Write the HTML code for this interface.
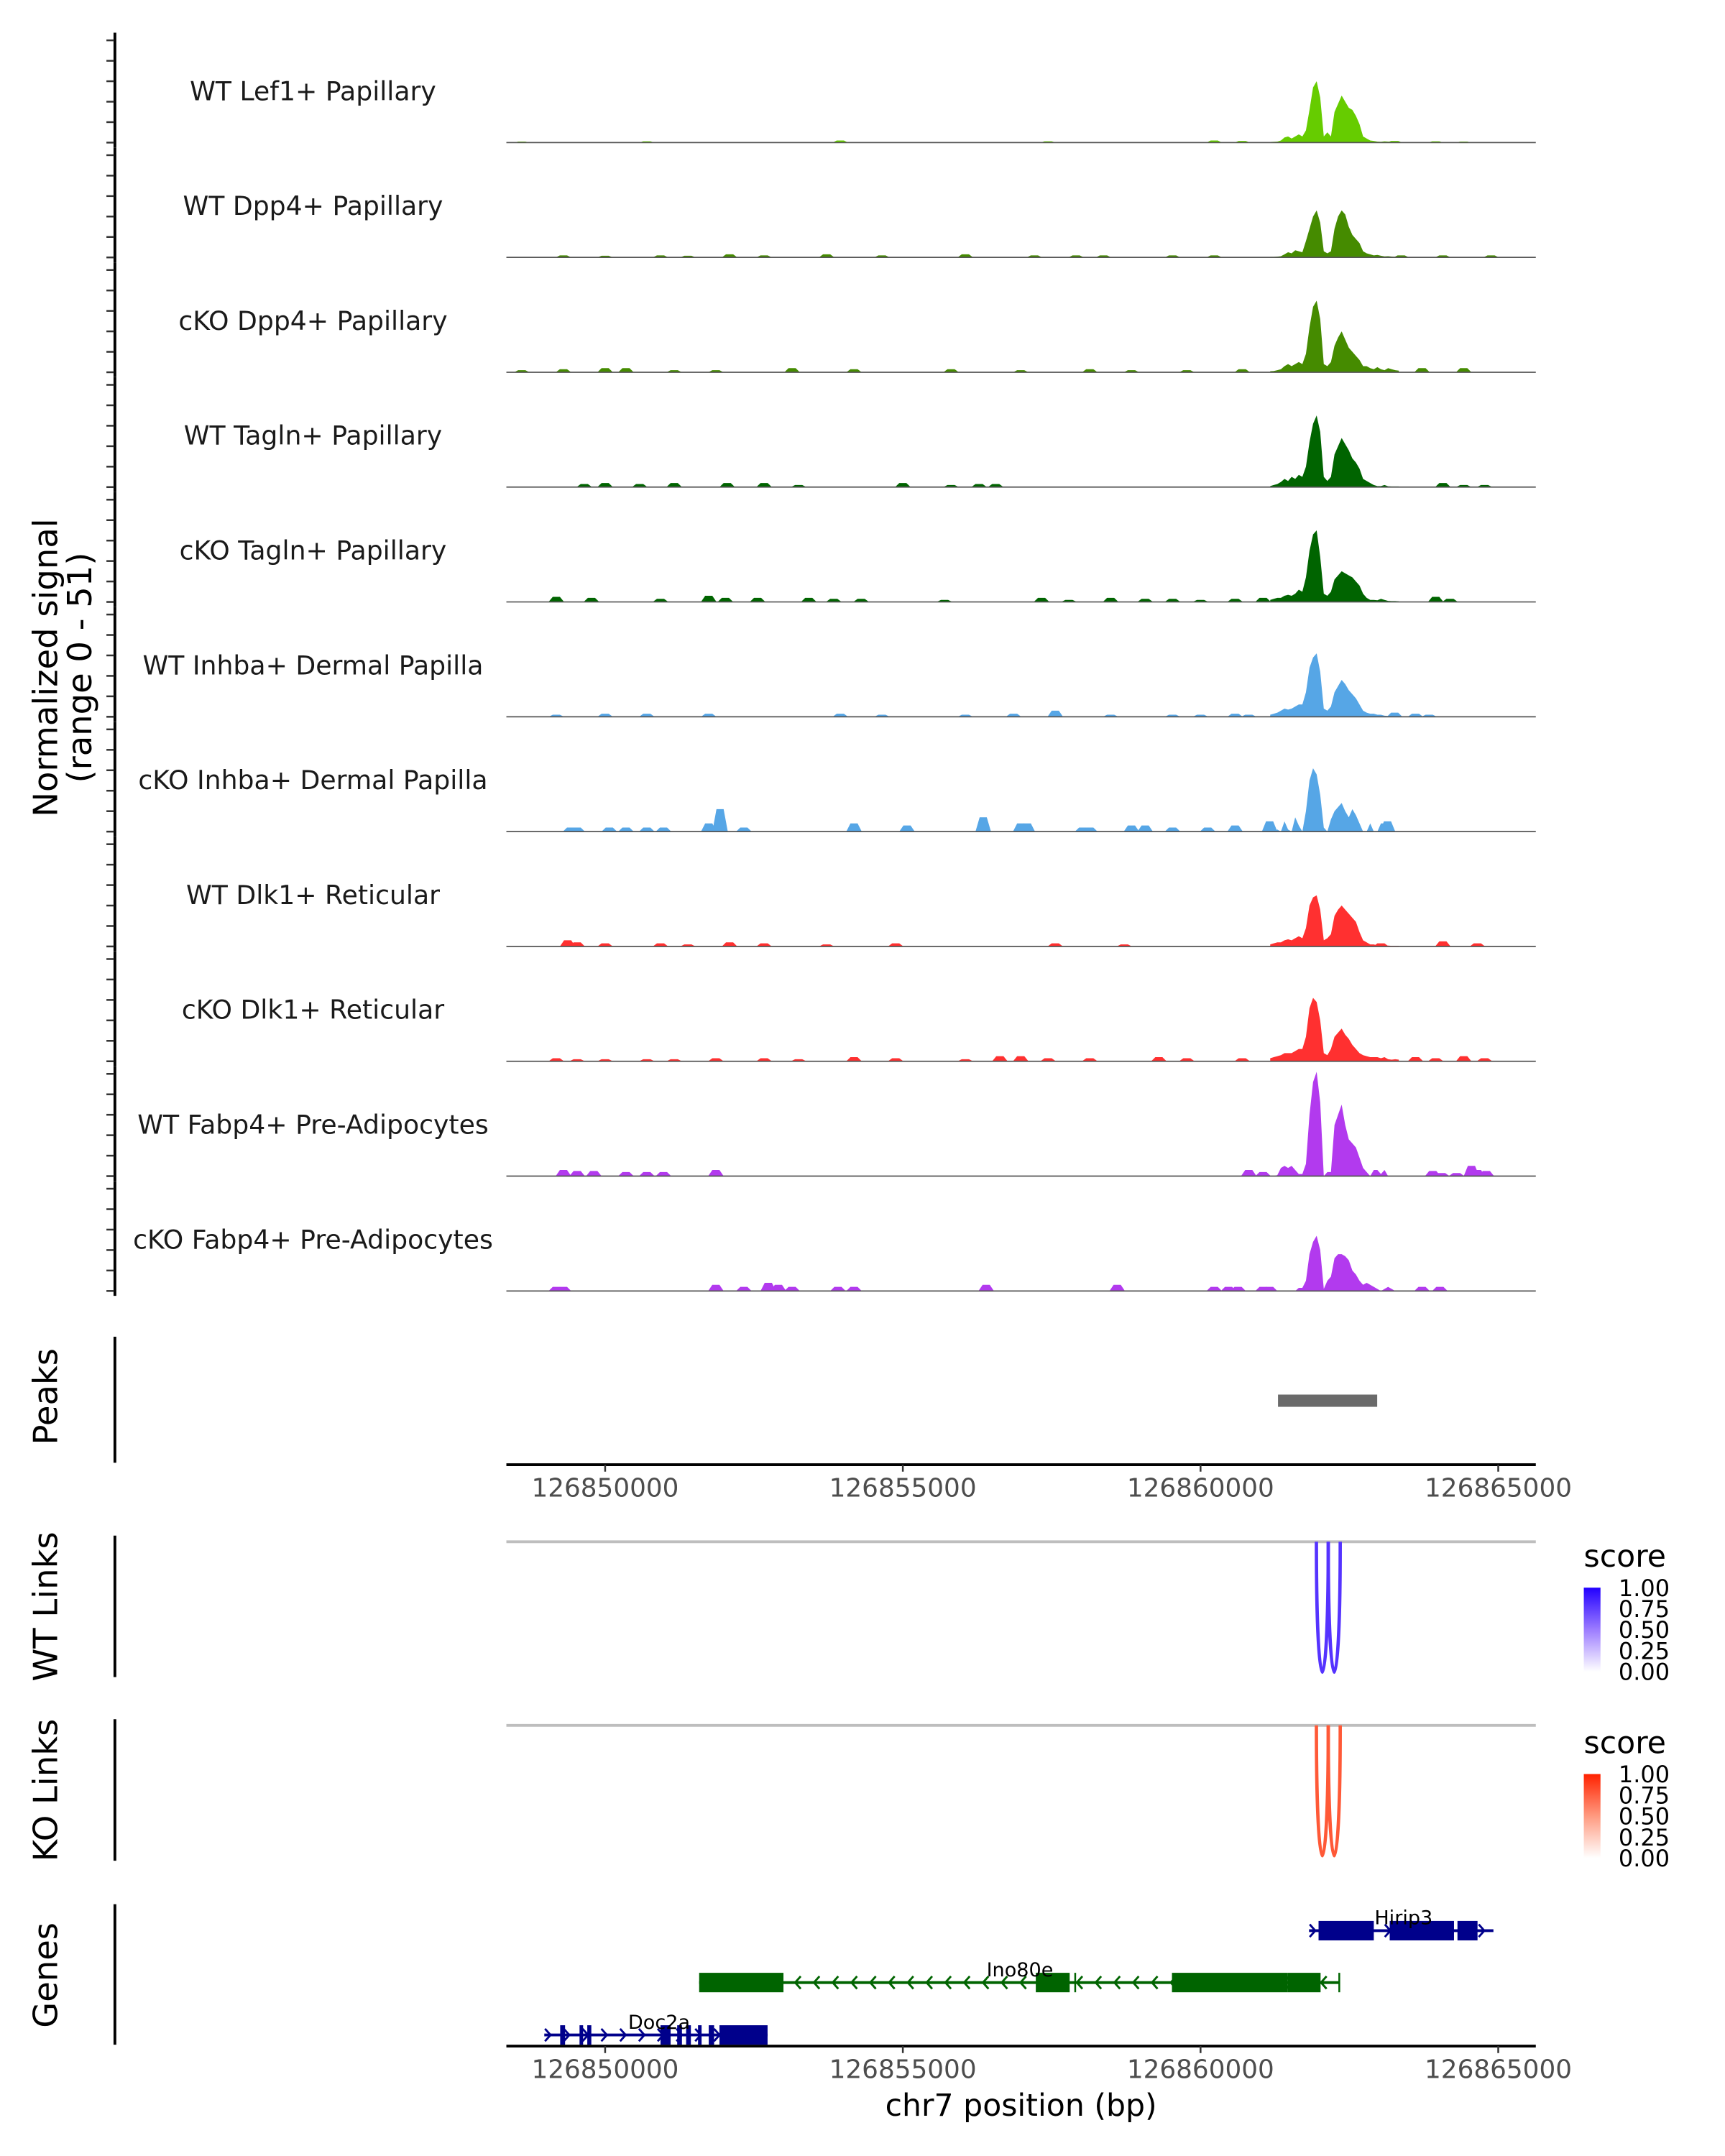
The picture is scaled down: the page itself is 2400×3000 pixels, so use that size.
<!DOCTYPE html>
<html><head><meta charset="utf-8"><title>Coverage plot chr7</title>
<style>html,body{margin:0;padding:0;background:#fff}svg{display:block}text{font-family:"DejaVu Sans","Liberation Sans",sans-serif}</style>
</head><body>
<svg id="chart" xmlns="http://www.w3.org/2000/svg" width="2400" height="3000" viewBox="0 0 1240 1550">
<defs>
<linearGradient id="gBlue" x1="0" y1="0" x2="0" y2="1"><stop offset="0" stop-color="#2200ff"/><stop offset="0.5" stop-color="#9c7cff"/><stop offset="1" stop-color="#ffffff"/></linearGradient>
<linearGradient id="gRed" x1="0" y1="0" x2="0" y2="1"><stop offset="0" stop-color="#ff2200"/><stop offset="0.5" stop-color="#ff9a80"/><stop offset="1" stop-color="#ffffff"/></linearGradient>
</defs>
<g id="g-tracks"></g>
<g id="g-axes"></g>
<text transform="translate(41,480) rotate(-90)" text-anchor="middle" font-size="24" fill="#000">Normalized signal</text>
<text transform="translate(65.5,480) rotate(-90)" text-anchor="middle" font-size="24" fill="#000">(range 0 - 51)</text>
<text transform="translate(41,1004) rotate(-90)" text-anchor="middle" font-size="24" fill="#000">Peaks</text>
<text transform="translate(41,1155) rotate(-90)" text-anchor="middle" font-size="24" fill="#000">WT Links</text>
<text transform="translate(41,1287) rotate(-90)" text-anchor="middle" font-size="24" fill="#000">KO Links</text>
<text transform="translate(41,1420) rotate(-90)" text-anchor="middle" font-size="24" fill="#000">Genes</text>
<text x="734" y="1521" text-anchor="middle" font-size="22" fill="#000">chr7 position (bp)</text>
<g>
<text x="1138.5" y="1126.4" font-size="22">score</text>
<rect x="1138.5" y="1141.4" width="12" height="60.4" fill="url(#gBlue)"/>
<text x="1163.5" y="1147.4" font-size="16.5">1.00</text>
<text x="1163.5" y="1162.5" font-size="16.5">0.75</text>
<text x="1163.5" y="1177.5" font-size="16.5">0.50</text>
<text x="1163.5" y="1192.7" font-size="16.5">0.25</text>
<text x="1163.5" y="1207.8" font-size="16.5">0.00</text>
</g>
<g transform="translate(0,134)">
<text x="1138.5" y="1126.4" font-size="22">score</text>
<rect x="1138.5" y="1141.4" width="12" height="60.4" fill="url(#gRed)"/>
<text x="1163.5" y="1147.4" font-size="16.5">1.00</text>
<text x="1163.5" y="1162.5" font-size="16.5">0.75</text>
<text x="1163.5" y="1177.5" font-size="16.5">0.50</text>
<text x="1163.5" y="1192.7" font-size="16.5">0.25</text>
<text x="1163.5" y="1207.8" font-size="16.5">0.00</text>
</g>
</svg>
<script>
// ---------- data ----------
const trackNames = ["WT Lef1+ Papillary","WT Dpp4+ Papillary","cKO Dpp4+ Papillary","WT Tagln+ Papillary","cKO Tagln+ Papillary","WT Inhba+ Dermal Papilla","cKO Inhba+ Dermal Papilla","WT Dlk1+ Reticular","cKO Dlk1+ Reticular","WT Fabp4+ Pre-Adipocytes","cKO Fabp4+ Pre-Adipocytes"];
const trackColors = ["#66cc00","#458b00","#458b00","#006400","#006400","#56a6e6","#56a6e6","#ff3030","#ff3030","#b23aee","#b23aee"];
const peakGridStart = 126861170;
const peakGridStep = 60;
const sigLef1 = [.3,.4,.5,1,2.5,3,2,3,4,3,6,16,27,30,22,3,5,3,15,19,23,20,17,16,13,9,3,2,1,.8,.5,.4,.6,.5,.4,.3,.3];
const sigWtDpp4 = [.3,.3,.4,.6,1.5,2.5,2,3.5,3,2.5,8,14,20,23,17,3,2,3,14,20,23,21,15,11,9,7,3,2,1.5,1,1.2,.8,.5,.6,.4,.3,.3];
const sigKoDpp4 = [.5,.6,1,1.5,3,4,3,4,5,4,9,22,32,35,26,4,3,5,13,17,20,16,12,10,8,6,3,3,2,1.5,2.5,1.5,1,2,1.5,1,.8];
const sigWtTagln = [.5,1,1.5,2.5,4,3,5,4,6,5,10,22,31,35,27,5,3,5,16,20,24,21,18,14,12,9,4,3,2,1,.5,.5,1,.4,.3,.3,.3];
const sigKoTagln = [1,1.5,2,2,3,3.5,3,4,6,5,12,25,33,35,22,4,3,5,11,13,15,14,13,12,10,8,4,2,1,1,.8,1.5,1,.5,.4,.4,.3];
const sigWtInhba = [1,1.5,2,3,4,3.5,4,5,6,6,12,24,29,31,22,4,3,5,12,15,18,16,13,11,9,6,3,2,1.5,1.5,1,1,.5,.4,.3,.3,.3];
const sigKoInhba = [0,0,1,0,5,1,0,7,3,0,10,25,31,28,18,2,0,6,10,12,14,10,7,11,8,4,0,0,4,0,0,4,4,0,0,0,0];
const sigWtDlk1 = [1,1.5,2,2,3,3.5,3,4,5,4,9,20,24,25,18,3,4,6,15,18,20,18,16,14,12,7,3,2,1,1,.5,.5,.4,.4,.3,.3,.3];
const sigKoDlk1 = [1.5,2,2.5,3,4,4,4,5,6,6,12,26,31,29,20,4,3,6,12,14,16,13,11,8,6,4,3,2.5,2,2,2,1.5,2,1,.8,1,.8];
const sigWtFabp4 = [0,0,.5,4,5,4,5,3,1,1,6,30,46,51,36,0,2,2,25,30,35,25,18,16,14,9,4,2,0,3,3,1,3,0,0,0,0];
const sigKoFabp4 = [0,0,0,0,0,0,0,0,1.5,1.5,5,18,24,27,20,1,5,7,16,18,18,17,15,10,8,5,3,4,3,2,1,0,1,2,1,0,0];
// background bumps: positions (kb) and heights
const bumpPosLef1 = [126848.60,126850.70,126853.95,126857.44,126860.23,126860.70,126863.26,126863.95,126864.42];
const bumpHLef1 = [.5,.6,1,.6,1,.8,.8,.6,.5];
const bumpPosWtDpp4 = [126849.30,126850.00,126850.93,126851.39,126852.09,126852.67,126853.72,126854.65,126856.05,126857.21,126857.91,126858.37,126859.53,126860.23,126863.37,126864.07,126864.88];
const bumpHWtDpp4 = [1,.8,1,.8,1.5,1,1.5,1,1.5,1,1,1,1,1,1,1,1];
const bumpPosKoDpp4 = [126848.60,126849.30,126850.00,126850.35,126851.16,126851.86,126853.14,126854.18,126855.81,126856.98,126858.14,126858.84,126859.77,126860.70,126863.72,126864.42];
const bumpHKoDpp4 = [1,1.5,2,2,1,1,2,1.5,1.5,1,1.5,1,1,1.5,2,2];
const bumpPosWtTagln = [126849.65,126850.00,126850.58,126851.16,126852.05,126852.67,126853.25,126855.00,126855.81,126856.28,126856.56,126862.79,126864.07,126864.42,126864.77];
const bumpHWtTagln = [1.5,2,1.5,2,2,2,1,2,1,1.5,1.5,1,2,1,1];
const bumpPosKoTagln = [126849.18,126849.77,126850.93,126851.74,126852.02,126852.56,126853.42,126853.84,126854.30,126855.70,126857.33,126857.79,126858.49,126859.07,126859.53,126860.00,126860.58,126861.05,126863.95,126864.19];
const bumpHKoTagln = [2.5,2,1.5,3,2,2,2,1.5,1.5,1,2,1,2,1.5,1.5,1,1.5,2,2.5,1.5];
const bumpPosWtInhba = [126849.18,126850.00,126850.70,126851.74,126853.95,126854.65,126856.05,126856.86,126857.56,126858.49,126859.53,126860.00,126860.58,126860.81,126863.26,126863.61,126863.84];
const bumpHWtInhba = [1,1.5,1.5,1.5,1.5,1,1,1.5,3,1,1,1,1.5,1,2,1.5,1];
const bumpPosKoInhba = [126849.42,126849.53,126850.07,126850.35,126850.70,126850.98,126851.74,126851.93,126852.33,126854.18,126855.07,126856.35,126856.98,126857.09,126858.02,126858.14,126858.84,126859.07,126859.53,126860.12,126860.58,126861.16,126863.14];
const bumpHKoInhba = [2,2,2,2,2,2,4,11,2,4,3,7,4,4,2,2,3,3,2,2,3,5,5];
const bumpPosWtDlk1 = [126849.37,126849.53,126850.00,126850.93,126851.39,126852.09,126852.67,126853.72,126854.88,126857.56,126858.72,126863.03,126864.07,126864.65];
const bumpHWtDlk1 = [3,2,1.5,1.5,1,2,1.5,1,1.5,1.5,1,1.5,2.5,1.5];
const bumpPosKoDlk1 = [126849.18,126849.53,126850.00,126850.70,126851.16,126851.86,126852.67,126853.25,126854.18,126854.88,126856.05,126856.63,126856.98,126857.44,126858.14,126859.30,126859.77,126860.70,126863.61,126863.95,126864.42,126864.77];
const bumpHKoDlk1 = [1.5,1,1,1,1,1.5,1.5,1,2,1.5,1,2.5,2.5,1.5,1.5,2,1.5,1.5,2,1.5,2.5,1.5];
const bumpPosWtFabp4 = [126849.30,126849.53,126849.81,126850.35,126850.70,126850.98,126851.86,126860.81,126861.05,126863.90,126864.05,126864.30,126864.55,126864.65,126864.80];
const bumpHWtFabp4 = [3,2.5,2.5,2,2,2,3,3,2,2.5,1.5,1.5,5,3,2.5];
const bumpPosKoFabp4 = [126849.18,126849.30,126851.86,126852.33,126852.74,126852.91,126853.14,126853.91,126854.18,126856.40,126858.60,126860.23,126860.47,126860.63,126861.05,126861.16,126863.72,126864.02];
const bumpHKoFabp4 = [2,2,3,2,4,3,2,2,2,3,3,2,2,2,2,2,2,2];

const trackSignals = [sigLef1,sigWtDpp4,sigKoDpp4,sigWtTagln,sigKoTagln,sigWtInhba,sigKoInhba,sigWtDlk1,sigKoDlk1,sigWtFabp4,sigKoFabp4];
const trackBumpPos = [bumpPosLef1,bumpPosWtDpp4,bumpPosKoDpp4,bumpPosWtTagln,bumpPosKoTagln,bumpPosWtInhba,bumpPosKoInhba,bumpPosWtDlk1,bumpPosKoDlk1,bumpPosWtFabp4,bumpPosKoFabp4];
const trackBumpH = [bumpHLef1,bumpHWtDpp4,bumpHKoDpp4,bumpHWtTagln,bumpHKoTagln,bumpHWtInhba,bumpHKoInhba,bumpHWtDlk1,bumpHKoDlk1,bumpHWtFabp4,bumpHKoFabp4];

const xTicks = [126850000,126855000,126860000,126865000];
const yTicks = [0,10,20,30,40,50];
const peakStarts = [126861301];
const peakEnds = [126862967];
const wtLinkStarts = [126861946,126862145];
const wtLinkEnds = [126862145,126862346];
const wtLinkScores = [1,1];
const koLinkStarts = [126861946,126862145];
const koLinkEnds = [126862145,126862346];
const koLinkScores = [0.85,0.85];

const geneNames = ["Hirip3","Ino80e","Doc2a"];
const geneStrands = ["+","-","+"];
const geneStarts = [126861822,126851579,126848978];
const geneEnds = [126864919,126862330,126852728];
const geneColors = ["#00008b","#006400","#00008b"];
const geneExons = [
  [[126861982,126862910],[126863177,126864257],[126864315,126864652]],
  [[126851579,126852995],[126857233,126857802],[126857880,126857910],[126859520,126861459],[126861459,126862016],[126862315,126862345]],
  [[126849245,126849327],[126849570,126849630],[126849700,126849768],[126850930,126851100],[126851210,126851290],[126851360,126851440],[126851560,126851620],[126851740,126851830],[126851920,126852728]]
];
const geneLabelPos = [126863410,126856966,126850906];

// ---------- scales ----------
const NS = "http://www.w3.org/2000/svg";
const X0 = 126850000, PXBP = 0.0428, XL = 364, XR = 1104;
function xs(bp){ return 435 + (bp - X0) * PXBP; }
function clampX(x){ return Math.max(XL, Math.min(XR, x)); }
const BASE0 = 102.5, TRACK_STEP = 82.56, PX_PER_UNIT = 1.47;
function baseY(i){ return BASE0 + i * TRACK_STEP; }
function ys(i, v){ return baseY(i) - v * PX_PER_UNIT; }
function mk(tag, attrs, parent){ const e=document.createElementNS(NS,tag); for(const k in attrs) e.setAttribute(k, attrs[k]); parent.appendChild(e); return e; }

const gT = document.getElementById('g-tracks');
const gA = document.getElementById('g-axes');

// ---------- tracks ----------
trackNames.forEach((name, i) => {
  const g = mk('g', {}, gT);
  
  
  const b = baseY(i);
  const sig = trackSignals[i];
  let d = 'M' + clampX(xs(peakGridStart)).toFixed(2) + ',' + b;
  sig.forEach((v, k) => { d += 'L' + xs(peakGridStart + k*peakGridStep).toFixed(2) + ',' + ys(i, v).toFixed(2); });
  d += 'L' + xs(peakGridStart + (sig.length-1)*peakGridStep).toFixed(2) + ',' + b + 'Z';
  const area = mk('path', {d: d, fill: trackColors[i]}, g);
  
  
  trackBumpPos[i].forEach((kb, k) => {
    const c = kb * 1000, h = trackBumpH[i][k];
    const x1 = clampX(xs(c-130)), x2 = clampX(xs(c-60)), x3 = clampX(xs(c+60)), x4 = clampX(xs(c+130));
    const y = ys(i, h);
    const bp = mk('path', {d: `M${x1},${b}L${x2},${y}L${x3},${y}L${x4},${b}Z`, fill: trackColors[i]}, g);
    
    
  });
  const bl = mk('line', {x1: XL, x2: XR, y1: b, y2: b, stroke: '#555', 'stroke-width': 0.9}, g);
  
  
  const lbl = mk('text', {x: 225, y: b - 30.5, 'text-anchor': 'middle', 'font-size': 18.7, fill: '#1a1a1a'}, g);
  lbl.textContent = name;
  
  
  const ax = mk('line', {x1: 82.6, x2: 82.6, y1: b - 79, y2: b + 3.5, stroke: '#000', 'stroke-width': 2}, gA);
  
  
  yTicks.forEach(v => {
    const t = mk('line', {x1: 76.5, x2: 82, y1: ys(i, v), y2: ys(i, v), stroke: '#333', 'stroke-width': 1.3}, gA);
    
    
  });
});

// ---------- side axis segments ----------
[[961,1051.6,'peaks-axis'],[1104,1205.7,'wt-links-axis'],[1236,1337.7,'ko-links-axis'],[1369,1470,'genes-axis']].forEach(s => {
  const l = mk('line', {x1: 82.6, x2: 82.6, y1: s[0], y2: s[1], stroke: '#000', 'stroke-width': 2}, gA);
  
  
});

// ---------- peaks ----------
peakStarts.forEach((s, k) => {
  const r = mk('rect', {x: xs(s), y: 1002.6, width: xs(peakEnds[k]) - xs(s), height: 8.8, fill: '#6a6a6a'}, gT);
  
  
});

// ---------- x axes ----------
function xAxis(y, labelY, name){
  const g = mk('g', {}, gA);
  
  
  mk('line', {x1: XL, x2: XR, y1: y, y2: y, stroke: '#000', 'stroke-width': 2}, g);
  xTicks.forEach(t => {
    const tk = mk('line', {x1: xs(t), x2: xs(t), y1: y, y2: y + 5, stroke: '#333', 'stroke-width': 1.3}, g);
    
    
    const tl = mk('text', {x: xs(t), y: labelY, 'text-anchor': 'middle', 'font-size': 18.5, fill: '#4d4d4d'}, g);
    tl.textContent = t;
    
    
  });
}
xAxis(1053, 1076, 'x-axis-peaks');
xAxis(1471, 1494, 'x-axis-genes');

// ---------- links ----------
function links(lineY, starts, ends, scores, rgb, name){
  const g = mk('g', {}, gT);
  
  
  const gl = mk('line', {x1: XL, x2: XR, y1: lineY, y2: lineY, stroke: '#bebebe', 'stroke-width': 2}, g);
  
  
  starts.forEach((s, k) => {
    const a = xs(s), b = xs(ends[k]), c = lineY + 125;
    const sc = scores[k];
    const col = `rgb(${Math.round(255-(255-rgb[0])*sc)},${Math.round(255-(255-rgb[1])*sc)},${Math.round(255-(255-rgb[2])*sc)})`;
    const p = mk('path', {d: `M${a},${lineY}C${a},${c} ${b},${c} ${b},${lineY}`, fill: 'none', stroke: col, 'stroke-width': 2.4}, g);
    
    
  });
}
links(1108.4, wtLinkStarts, wtLinkEnds, wtLinkScores, [85,51,255], 'wt-links');
links(1240.4, koLinkStarts, koLinkEnds, koLinkScores, [255,60,20], 'ko-links');

// ---------- genes ----------
const geneY = [1388, 1425.3, 1463];
geneNames.forEach((gn, i) => {
  const g = mk('g', {}, gT);
  
  
  const y = geneY[i], col = geneColors[i];
  const x1 = xs(geneStarts[i]), x2 = xs(geneEnds[i]);
  mk('line', {x1: x1, x2: x2, y1: y, y2: y, stroke: col, 'stroke-width': 2}, g);
  const dir = geneStrands[i] === '+' ? 1 : -1;
  for (let x = x1 + 3; x <= x2 - 1; x += 13.5) {
    const ch = mk('path', {d: `M${x - 2.5*dir},${y-4.5}L${x + 1.5*dir},${y}L${x - 2.5*dir},${y+4.5}`, fill: 'none', stroke: col, 'stroke-width': 1.5}, g);
    
    
  }
  geneExons[i].forEach(ex => {
    const r = mk('rect', {x: xs(ex[0]), y: y - 7, width: Math.max(1.2, xs(ex[1]) - xs(ex[0])), height: 14, fill: col}, g);
    
    
  });
  const t = mk('text', {x: xs(geneLabelPos[i]), y: y - 4.5, 'text-anchor': 'middle', 'font-size': 14, fill: '#000'}, g);
  t.textContent = gn;
  
  
});
</script>
</body></html>
